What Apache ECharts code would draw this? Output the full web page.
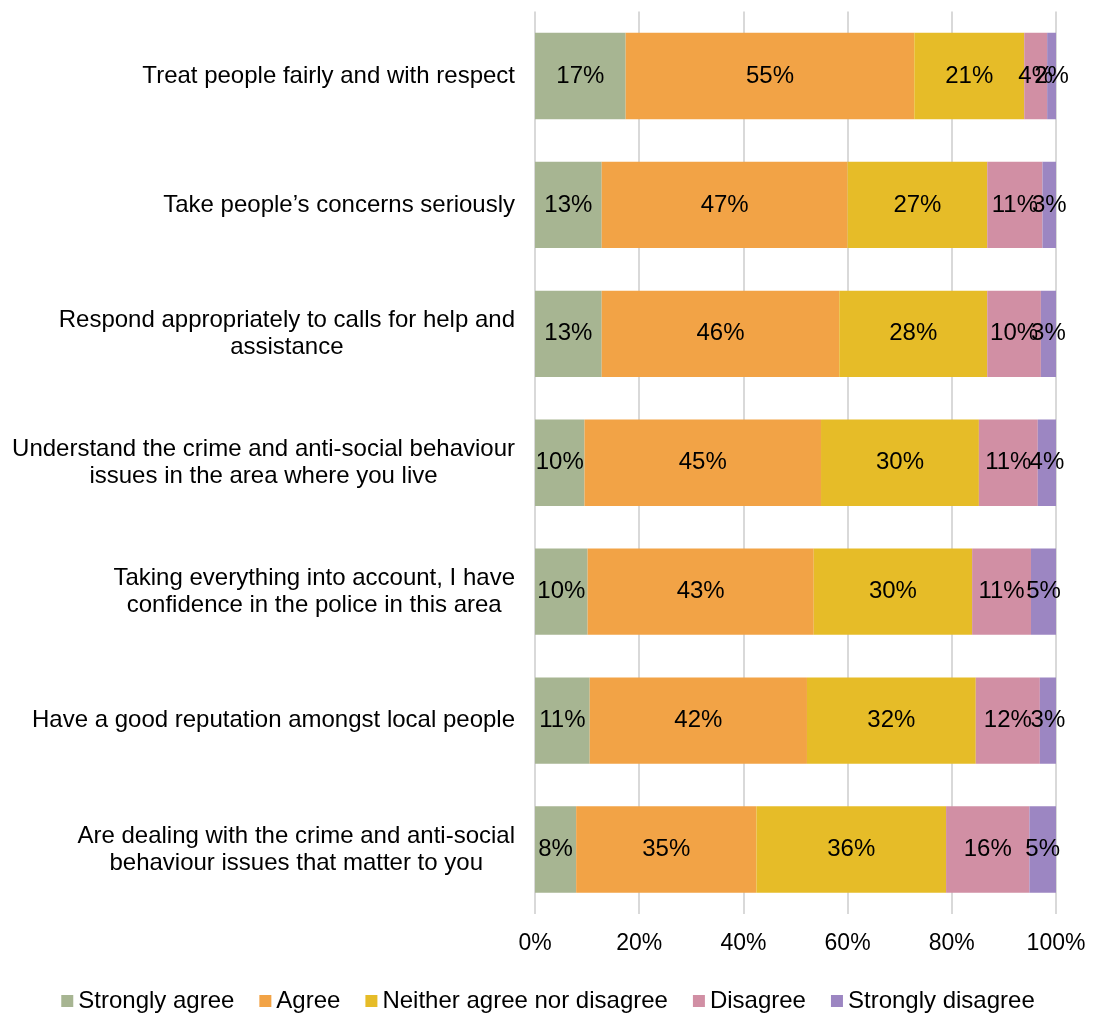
<!DOCTYPE html>
<html>
<head>
<meta charset="utf-8">
<script src="https://cdn.jsdelivr.net/npm/echarts@6/dist/echarts.min.js"></script>
<style>
  html, body { margin: 0; padding: 0; background: #ffffff; }
  #chart { width: 1096px; height: 1015px; }
</style>
</head>
<body>
<div id="chart"></div>
<script>
// Survey statements (top to bottom), wrapped where the label breaks
const statements = [
  'Treat people fairly and with respect',
  'Take people\u2019s concerns seriously',
  'Respond appropriately to calls for help and\nassistance',
  'Understand the crime and anti-social behaviour\nissues in the area where you live',
  'Taking everything into account, I have\nconfidence in the police in this area',
  'Have a good reputation amongst local people',
  'Are dealing with the crime and anti-social\nbehaviour issues that matter to you'
];

// Share of respondents (%) per response
const stronglyAgree    = [17.4, 12.8, 12.8,  9.5, 10.1, 10.5,  7.9];
const agree            = [55.4, 47.2, 45.6, 45.4, 43.4, 41.7, 34.6];
const neither          = [21.1, 26.8, 28.4, 30.3, 30.4, 32.4, 36.4];
const disagree         = [ 4.4, 10.6, 10.3, 11.3, 11.3, 12.3, 16.0];
const stronglyDisagree = [ 1.7,  2.6,  2.9,  3.5,  4.8,  3.1,  5.1];

const responses = ['Strongly agree', 'Agree', 'Neither agree nor disagree', 'Disagree', 'Strongly disagree'];
const responseValues = [stronglyAgree, agree, neither, disagree, stronglyDisagree];
const responseColors = ['#A7B592', '#F2A346', '#E6BC28', '#D18FA4', '#9C86C2'];

const axisTicks = [0, 20, 40, 60, 80, 100];

const FONT = 'Liberation Sans, Arial, sans-serif';
const FS = 24;

const chart = echarts.init(document.getElementById('chart'));

chart.setOption({
  backgroundColor: '#ffffff',
  textStyle: { fontFamily: FONT },
  animation: false,
  grid: { left: 535, right: 40, top: 11.5, bottom: 101, containLabel: false },
  legend: {
    top: 984,
    left: 'center',
    itemWidth: 12,
    itemHeight: 12,
    itemGap: 25,
    icon: 'rect',
    textStyle: { fontFamily: FONT, fontSize: FS, color: '#000000' },
    data: responses
  },
  xAxis: {
    type: 'value',
    min: axisTicks[0],
    max: axisTicks[axisTicks.length - 1],
    interval: axisTicks[1] - axisTicks[0],
    axisLine: { show: false },
    axisTick: { show: false },
    splitLine: { show: true, lineStyle: { color: '#D9D9D9', width: 2 } },
    axisLabel: {
      margin: 18,
      fontFamily: FONT,
      fontSize: 23,
      color: '#000000',
      formatter: v => v + '%'
    }
  },
  yAxis: {
    type: 'category',
    inverse: true,
    data: statements,
    axisLine: { show: false },
    axisTick: { show: false },
    axisLabel: {
      margin: 20,
      fontFamily: FONT,
      fontSize: FS,
      color: '#000000',
      lineHeight: 27,
      formatter: s => s.split('\n').map(line => '{c|' + line + '}').join('\n'),
      rich: {
        c: { align: 'center', fontFamily: FONT, fontSize: FS, color: '#000000', lineHeight: 27 }
      }
    }
  },
  series: responses.map((name, i) => ({
    name: name,
    type: 'bar',
    stack: 'total',
    barCategoryGap: '33%',
    itemStyle: { color: responseColors[i] },
    label: {
      show: true,
      position: 'inside',
      fontFamily: FONT,
      fontSize: FS,
      color: '#000000',
      formatter: p => Math.round(p.value) + '%'
    },
    data: responseValues[i]
  }))
});
</script>
</body>
</html>
